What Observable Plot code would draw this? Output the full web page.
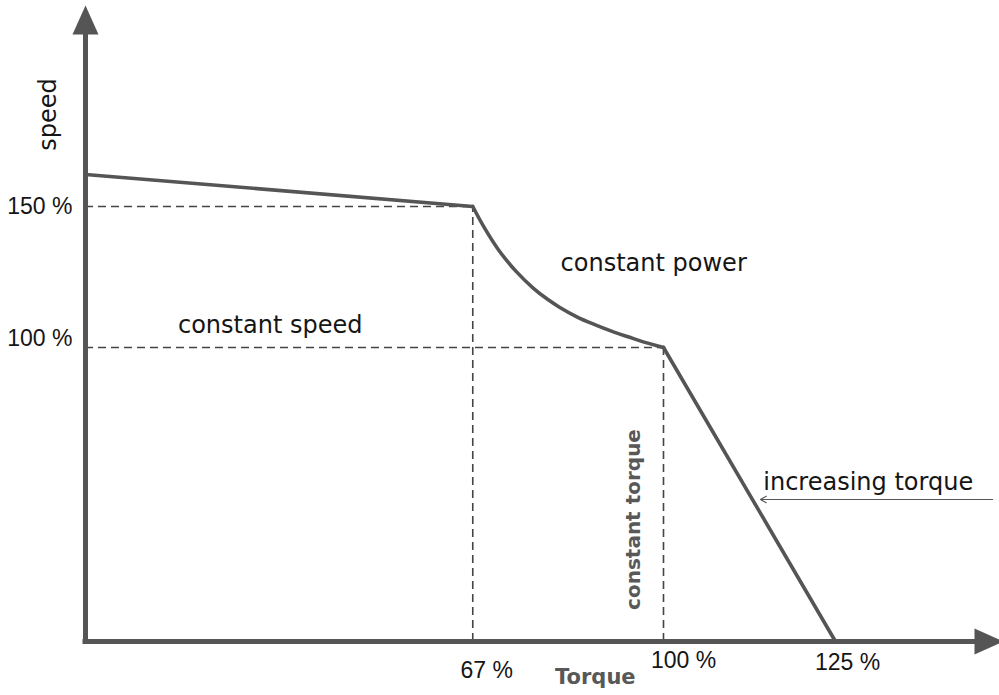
<!DOCTYPE html>
<html>
<head>
<meta charset="utf-8">
<script src="https://cdn.jsdelivr.net/npm/d3@7"></script>
<script src="https://cdn.jsdelivr.net/npm/@observablehq/plot@0.6"></script>
<style>
  body { margin: 0; background: #fff; }
  #chart svg { display: block; }
</style>
</head>
<body>
<div id="chart"></div>
<script>
// ---- data ----
// constant-speed segment: torque (%) vs speed (%)
const speedTorque = [0, 67];
const speedSpeed  = [161, 150];
// constant-power segment
const powerTorque = [67, 69, 71.5, 74.5, 77.5, 80, 82, 85, 88, 91, 94, 96.5, 100];
const powerSpeed  = [150, 142.5, 134.5, 127, 121, 117, 114.3, 110.9, 108.2, 105.8, 103.7, 102, 100];
// increasing-torque segment
const rampTorque = [100, 125];
const rampSpeed  = [100, 0];

// dashed guide lines (torque, speed)
const guideTorque = [67, 100];
const guideSpeed  = [150, 100];

// tick labels
const xTicks = [67, 100, 125];
const yTicks = [150, 100];
const xTickText = ["67 %", "100 %", "125 %"];
const yTickText = ["150 %", "100 %"];

// annotation texts and anchors (data units)
const noteText   = ["constant speed", "constant power", "increasing torque"];
const noteTorque = [16, 82.2, 114.5];
const noteSpeed  = [108, 130, 54.2];

// "increasing torque" pointer
const pointerFrom = [148, 48.3];
const pointerTo   = [114.1, 48.3];

// schematic (not-to-scale) axes
const xDomain = [0, 100, 125, 149];
const yDomain = [0, 100, 150, 219];

const toRows = (ts, ss) => ts.map((t, i) => ({torque: t, speed: ss[i]}));
const guides = toRows(guideTorque, guideSpeed);
const notes = noteText.map((text, i) => ({text, torque: noteTorque[i], speed: noteSpeed[i]}));

const axisColor = "#555";
const textColor = "#151515";
const font = "DejaVu Sans, sans-serif";
const tickFont = "Liberation Sans, Arial, sans-serif";

const arrowHead = {
  draw(ctx) {
    ctx.moveTo(0, 0);
    ctx.lineTo(-13, 29);
    ctx.lineTo(13, 29);
    ctx.closePath();
  }
};

const tickX = (i, dx, dy) => Plot.text([xTicks[i]], {
  x: d => d, y: 0, text: () => xTickText[i], dx, dy,
  fontSize: 23, fontFamily: tickFont, fill: textColor, textAnchor: "middle", lineAnchor: "middle"
});
const tickY = (i, dy) => Plot.text([yTicks[i]], {
  x: 0, y: d => d, text: () => yTickText[i], dx: -13, dy,
  fontSize: 23, fontFamily: tickFont, fill: textColor, textAnchor: "end", lineAnchor: "middle"
});

const lineStyle = {x: "torque", y: "speed", stroke: axisColor, strokeWidth: 3.6, strokeLinejoin: "miter", strokeLinecap: "round"};

const chart = Plot.plot({
  width: 999,
  height: 695,
  marginLeft: 85,
  marginRight: 0,
  marginTop: 5,
  marginBottom: 54,
  style: {fontFamily: font, background: "#fff", overflow: "visible"},
  x: {type: "linear", domain: xDomain, range: [85, 663, 835, 999], axis: null},
  y: {type: "linear", domain: yDomain, range: [641, 347, 206, 5], axis: null},
  marks: [
    // dashed guides
    Plot.ruleY(guides, {y: "speed", x1: 0, x2: "torque", stroke: "#444", strokeWidth: 1.6, strokeDasharray: "8,5"}),
    Plot.ruleX(guides, {x: "torque", y1: 0, y2: "speed", stroke: "#444", strokeWidth: 1.6, strokeDasharray: "8,5"}),
    // operating curve
    Plot.line(toRows(speedTorque, speedSpeed), {...lineStyle, curve: "linear"}),
    Plot.line(toRows(powerTorque, powerSpeed), {...lineStyle, curve: "catmull-rom"}),
    Plot.line(toRows(rampTorque, rampSpeed), {...lineStyle, curve: "linear"}),
    // axes with arrowheads
    Plot.ruleX([0], {stroke: axisColor, strokeWidth: 5, insetTop: 22, insetBottom: -2.5}),
    Plot.ruleY([0], {stroke: axisColor, strokeWidth: 5, insetRight: 22, insetLeft: -2.5}),
    Plot.dot([0], {frameAnchor: "top-left", symbol: arrowHead, fill: axisColor, stroke: "none", r: 10}),
    Plot.dot([0], {frameAnchor: "bottom-right", symbol: arrowHead, fill: axisColor, stroke: "none", r: 10, rotate: 90, dx: 4}),
    // pointer arrow
    Plot.arrow([0], {x1: () => pointerFrom[0], y1: () => pointerFrom[1], x2: () => pointerTo[0], y2: () => pointerTo[1],
      stroke: axisColor, strokeWidth: 1.1, headLength: 9}),
    // annotations
    Plot.text(notes, {x: "torque", y: "speed", text: "text", fontSize: 24, fill: textColor, textAnchor: "start", lineAnchor: "middle"}),
    Plot.text(["constant torque"], {x: 94.8, y: 41.5, text: d => d, rotate: -90, fontSize: 20, fontWeight: "bold", fill: "#585858", textAnchor: "middle", lineAnchor: "middle"}),
    Plot.text(["speed"], {x: -6.4, y: 181.6, text: d => d, rotate: -90, fontSize: 24, fill: textColor, textAnchor: "middle", lineAnchor: "middle"}),
    Plot.text(["Torque"], {x: 88.2, y: 0, text: d => d, dy: 36, fontSize: 21, fontWeight: "bold", fill: "#585858", textAnchor: "middle", lineAnchor: "middle"}),
    // tick labels
    tickX(0, 14, 29),
    tickX(1, 20, 19),
    tickX(2, 12, 21),
    tickY(0, 0),
    tickY(1, -9)
  ]
});

document.getElementById("chart").append(chart);
</script>
</body>
</html>
